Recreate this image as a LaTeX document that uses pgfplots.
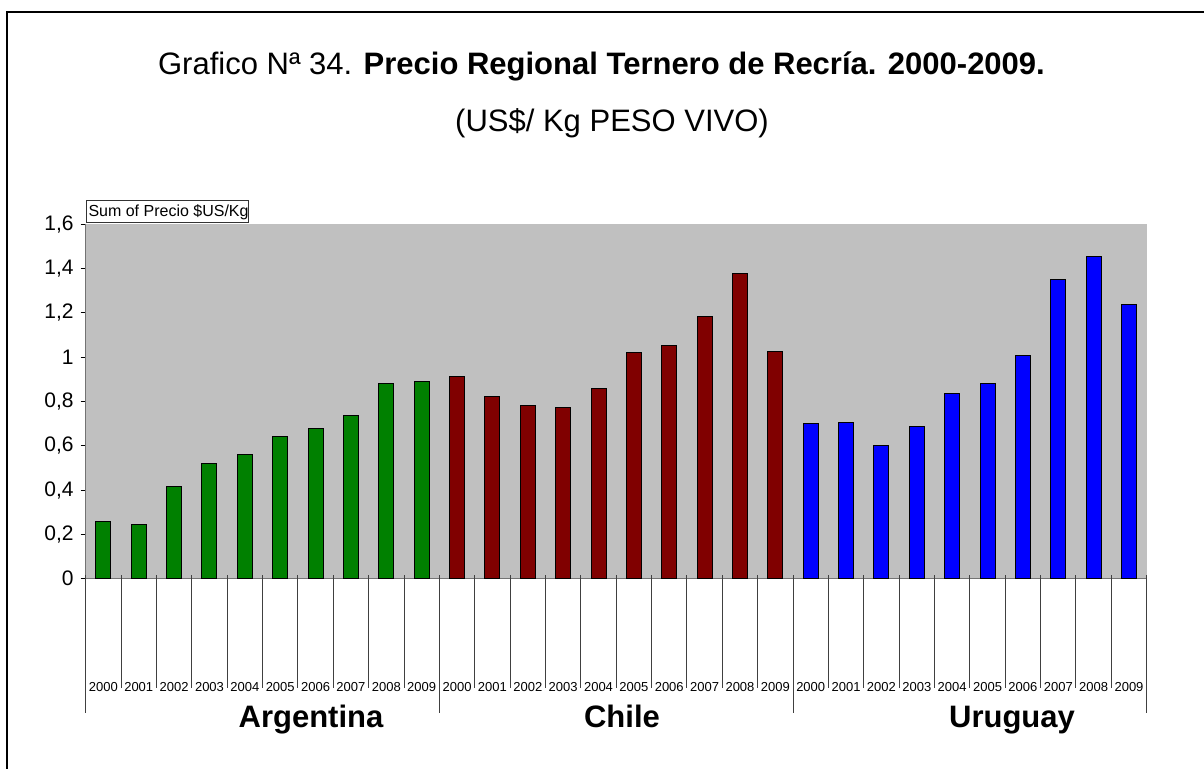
\documentclass[border=0pt]{standalone}
\usepackage{pgfplots}
\pgfplotsset{compat=1.18}
\usepackage{fontspec}
\setmainfont{Liberation Sans}
\definecolor{plotgray}{RGB}{192,192,192}
\definecolor{argc}{RGB}{0,128,0}
\definecolor{chic}{RGB}{128,0,0}
\definecolor{uruc}{RGB}{0,0,255}
\begin{document}
\begin{tikzpicture}
\useasboundingbox (-42.85pt,-94.65pt) rectangle (559.15pt,289.35pt);
\begin{axis}[
  at={(0pt,0pt)}, anchor=south west,
  scale only axis, width=530.5pt, height=177.2pt,
  xmin=-0.5, xmax=29.5, ymin=0, ymax=1.6,
  axis background/.style={fill=plotgray},
  axis x line*=bottom, axis y line*=left,
  axis line style={-, draw=black!55, line width=0.6pt},
  tick align=outside, major tick length=2.5pt,
  ytick={0,0.2,0.4,0.6,0.8,1,1.2,1.4,1.6},
  y tick style={draw=black, line width=0.5pt},
  yticklabel style={/pgf/number format/fixed, /pgf/number format/precision=1, /pgf/number format/use comma, font=\fontsize{10.5}{12}\selectfont},
  /pgf/number format/assume math mode=true,
  xtick={0,...,29},
  xticklabels={2000,2001,2002,2003,2004,2005,2006,2007,2008,2009,2000,2001,2002,2003,2004,2005,2006,2007,2008,2009,2000,2001,2002,2003,2004,2005,2006,2007,2008,2009},
  x tick style={draw=none},
  xticklabel style={anchor=base, yshift=-53.65pt, font=\fontsize{6.5}{7}\selectfont, inner sep=0pt},
  ybar, bar width=7.5pt,
]
\addplot[bar shift=0pt, fill=argc, draw=black, line width=0.5pt] coordinates {
(0,0.260) (1,0.244) (2,0.417) (3,0.519) (4,0.563) (5,0.641) (6,0.677) (7,0.736) (8,0.882) (9,0.891)};
\addplot[bar shift=0pt, fill=chic, draw=black, line width=0.5pt] coordinates {
(10,0.914) (11,0.822) (12,0.783) (13,0.774) (14,0.857) (15,1.021) (16,1.055) (17,1.185) (18,1.379) (19,1.028)};
\addplot[bar shift=0pt, fill=uruc, draw=black, line width=0.5pt] coordinates {
(20,0.699) (21,0.706) (22,0.601) (23,0.687) (24,0.837) (25,0.882) (26,1.009) (27,1.352) (28,1.456) (29,1.239)};
\end{axis}
% category separators
\foreach \k in {1,...,9,11,12,...,19,21,22,...,29} {
  \draw[black!75, line width=0.5pt] (17.6833*\k pt,1.85pt) -- (17.6833*\k pt,-54.65pt);
}
\foreach \k in {0,10,20,30} {
  \draw[black!75, line width=0.5pt] (17.6833*\k pt,1.85pt) -- (17.6833*\k pt,-67.15pt);
}
% group labels
\node[anchor=base, font=\fontsize{15.5}{18}\selectfont\bfseries] at (112.65pt,-74.15pt) {Argentina};
\node[anchor=base, font=\fontsize{15.5}{18}\selectfont\bfseries] at (268.15pt,-74.15pt) {Chile};
\node[anchor=base, font=\fontsize{15.5}{18}\selectfont\bfseries] at (463.15pt,-74.15pt) {Uruguay};
% titles
\node[anchor=base, font=\fontsize{15.5}{18}\selectfont] at (257.9pt,252.1pt) {Grafico Nª 34. \textbf{Precio Regional Ternero de Recría. 2000-2009.}};
\node[anchor=base, font=\fontsize{15.5}{18}\selectfont] at (263.15pt,223.85pt) {(US\$/ Kg PESO VIVO)};
% field button box
\draw[black!80, line width=0.5pt] (0.15pt,178.35pt) rectangle (81.15pt,189.35pt);
\node[anchor=base west, inner sep=0pt, font=\fontsize{8}{9}\selectfont] at (1.2pt,181.0pt) {Sum of Precio \$US/Kg};
% outer frame (left and top visible)
\draw[black, line width=1pt] (-39.2pt,-96pt) -- (-39.2pt,283.35pt) -- (561pt,283.35pt);
\end{tikzpicture}
\end{document}
